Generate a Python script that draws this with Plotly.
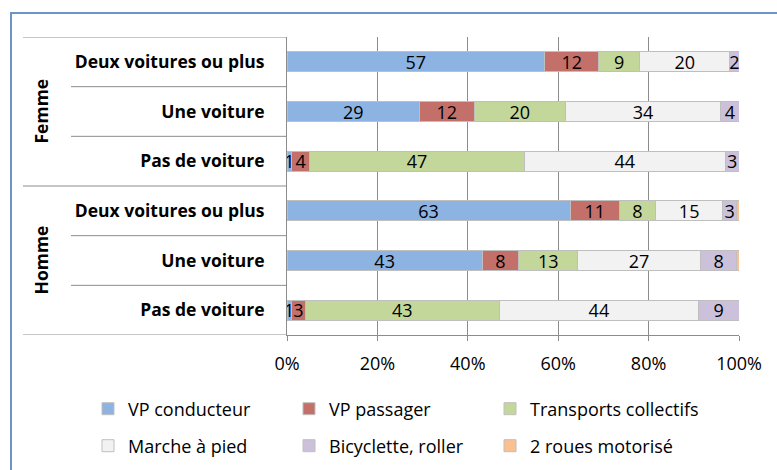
import plotly.graph_objects as go

# Mode de déplacement selon le sexe et la motorisation du ménage (%)
groups = ["Femme", "Femme", "Femme", "Homme", "Homme", "Homme"]
categories = ["Deux voitures ou plus", "Une voiture", "Pas de voiture",
              "Deux voitures ou plus", "Une voiture", "Pas de voiture"]

series_names = ["VP conducteur", "VP passager", "Transports collectifs",
                "Marche à pied", "Bicyclette, roller", "2 roues motorisé"]

vp_conducteur = [57, 29, 1, 63, 43, 1]
vp_passager = [12, 12, 4, 11, 8, 3]
transports_collectifs = [9, 20, 47, 8, 13, 43]
marche_a_pied = [20, 34, 44, 15, 27, 44]
bicyclette_roller = [2, 4, 3, 3, 8, 9]
deux_roues_motorise = [None, None, None, 0.6, 0.5, None]

x_tickvals = [0, 20, 40, 60, 80, 100]
x_ticktext = ["0%", "20%", "40%", "60%", "80%", "100%"]

# the tiny motorised-two-wheeler slices carry no label
show_label = [True, True, True, True, True, False]

colors = ["#8db3e2", "#c4706a", "#c4d79b", "#f2f2f2", "#ccc1da", "#fac090"]

series = [vp_conducteur, vp_passager, transports_collectifs,
          marche_a_pied, bicyclette_roller, deux_roues_motorise]

FONT = "Open Sans"
GRID = "#8c8c8c"
FIG_W, FIG_H = 777, 470

# px geometry helpers for the plot area (left 287, right 739, top 37, bottom 335)
L, R, T, B = 287, 739, 37, 335
W, H = R - L, B - T


def px_x(px):
    return (px - L) / W


def px_y(py):
    return (B - py) / H


keys = [f"{g} | {c}" for g, c in zip(groups, categories)]

# legend grid: 3 columns x 2 rows, one legend box per entry
legend_ids = ["legend", "legend2", "legend3", "legend4", "legend5", "legend6"]
legend_cols = [88, 289, 490]
legend_rows = [409, 446]

fig = go.Figure()
for i, (name, vals, col) in enumerate(zip(series_names, series, colors)):
    text = [("" if v is None else f"{v:g}") if show_label[i] else "" for v in vals]
    fig.add_trace(go.Bar(
        name=name,
        y=keys,
        x=vals,
        orientation="h",
        marker=dict(color=col, line=dict(color="#bfbfbf", width=1)),
        text=text,
        textposition="inside",
        insidetextanchor="middle",
        textangle=0,
        constraintext="none",
        textfont=dict(family=FONT, size=18, color="#000000"),
        legend=legend_ids[i],
        hoverinfo="skip",
    ))

shapes = []
# separators of the two-level category axis
for pos, start in [(-0.5, 23), (2.5, 23), (5.5, 23),
                   (0.5, 71), (1.5, 71), (3.5, 71), (4.5, 71)]:
    shapes.append(dict(type="line", xref="paper", yref="y",
                       x0=px_x(start), x1=0, y0=pos, y1=pos,
                       line=dict(color=GRID, width=1)))
# chart frame
frame = "#6b94c9"
shapes.append(dict(type="line", xref="paper", yref="paper",
                   x0=px_x(11), x1=px_x(11), y0=px_y(12), y1=px_y(480),
                   line=dict(color=frame, width=2)))
shapes.append(dict(type="line", xref="paper", yref="paper",
                   x0=px_x(10), x1=px_x(790), y0=px_y(13), y1=px_y(13),
                   line=dict(color=frame, width=2)))

annotations = []
for g, mid in [("Femme", keys[1]), ("Homme", keys[4])]:
    annotations.append(dict(text=f"<b>{g}</b>", xref="paper", yref="y",
                            x=px_x(40), y=mid, xanchor="center", yanchor="middle",
                            textangle=-90, showarrow=False,
                            font=dict(family=FONT, size=17.5, color="#000000")))

legends = {}
for i, lid in enumerate(legend_ids):
    legends[lid] = dict(
        xref="container", yref="container",
        x=legend_cols[i % 3] / FIG_W, y=1 - legend_rows[i // 3] / FIG_H,
        xanchor="left", yanchor="middle", orientation="h",
        font=dict(family=FONT, size=18, color="#000000"),
        bgcolor="rgba(0,0,0,0)",
    )

fig.update_layout(
    width=FIG_W, height=FIG_H,
    margin=dict(l=L, r=FIG_W - R, t=T, b=FIG_H - B, autoexpand=False),
    paper_bgcolor="white", plot_bgcolor="white",
    barmode="stack", barnorm="percent", bargap=0.6,
    showlegend=True,
    xaxis=dict(range=[0, 100], tickmode="array", tickvals=x_tickvals,
               ticktext=x_ticktext,
               showgrid=True, gridcolor=GRID, gridwidth=1,
               showline=True, linecolor=GRID, linewidth=1,
               ticks="outside", ticklen=5, tickcolor=GRID,
               ticklabelstandoff=7,
               tickfont=dict(family=FONT, size=18, color="#000000"),
               zeroline=False, fixedrange=True),
    yaxis=dict(type="category", categoryorder="array", categoryarray=keys,
               range=[5.5, -0.5], tickvals=keys,
               ticktext=[f"<b>{c}</b>" for c in categories],
               showline=True, linecolor=GRID, linewidth=1, ticks="",
               ticklabelstandoff=18, showgrid=False,
               tickfont=dict(family=FONT, size=17.5, color="#000000"),
               fixedrange=True),
    shapes=shapes,
    annotations=annotations,
    **legends,
)

fig.write_html("out.html")
